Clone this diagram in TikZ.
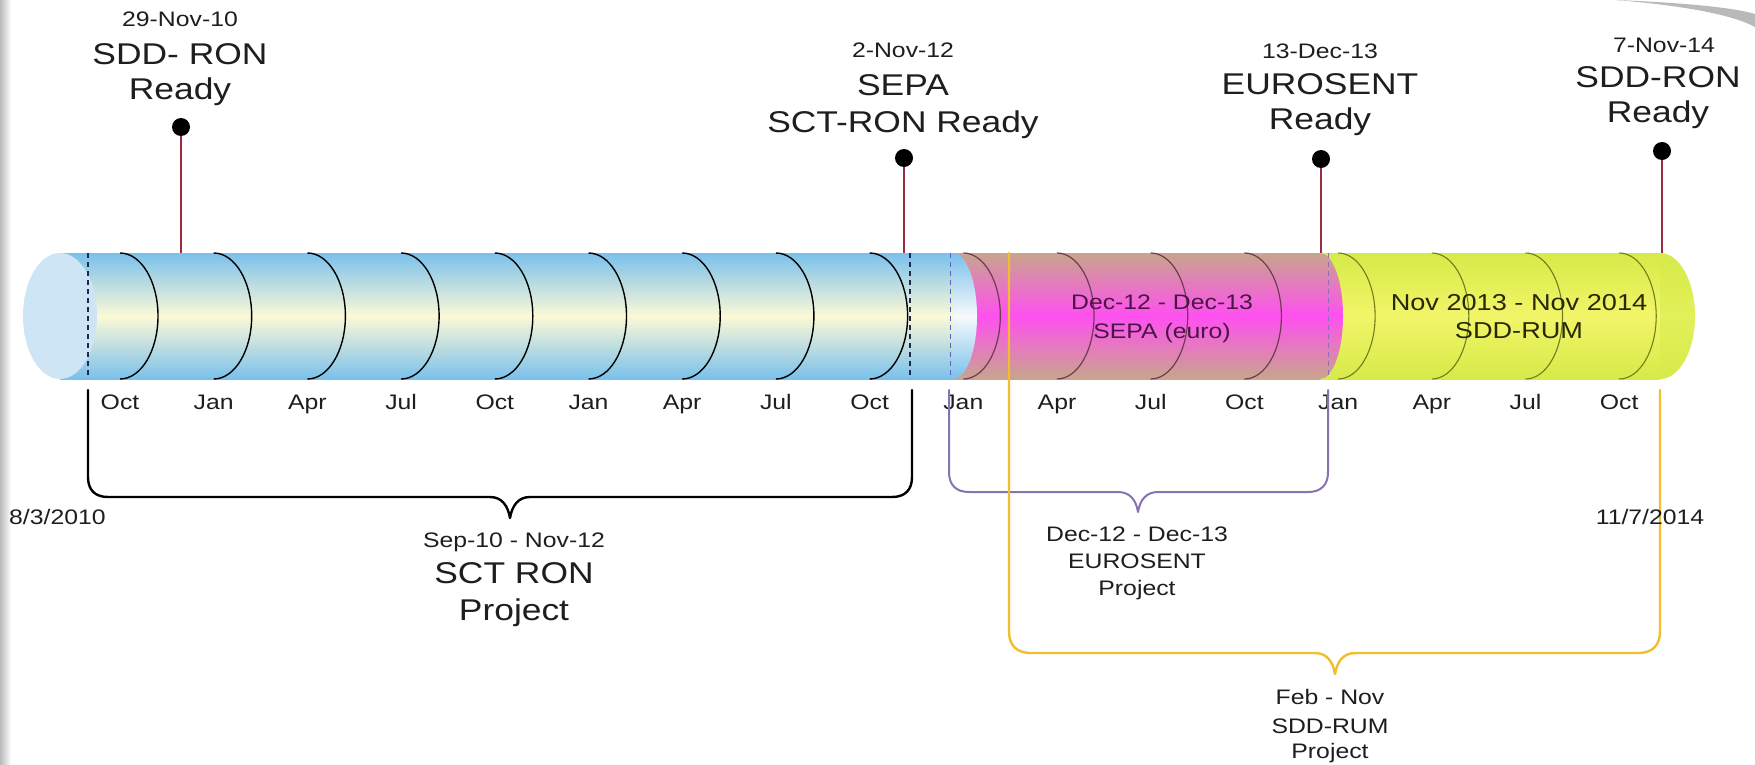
\documentclass[tikz,border=0pt]{standalone}
\usepackage{fontspec}
\setmainfont{Liberation Sans}[FakeStretch=1.18]
\usetikzlibrary{calc}

\definecolor{txt}{RGB}{30,30,30}
\definecolor{blueTop}{RGB}{122,192,236}
\definecolor{blueMid}{RGB}{252,249,214}
\definecolor{blueFace}{RGB}{206,229,245}
\definecolor{blueCapMid}{RGB}{246,250,252}
\definecolor{pinkTop}{RGB}{200,165,140}
\definecolor{pinkMid}{RGB}{255,80,240}
\definecolor{ylwTop}{RGB}{214,234,72}
\definecolor{ylwMid}{RGB}{242,245,105}
\definecolor{ylwCap}{RGB}{226,240,90}
\definecolor{arcPink}{RGB}{110,60,80}
\definecolor{arcYlw}{RGB}{115,125,25}
\definecolor{dashDark}{RGB}{30,40,80}
\definecolor{dashBlue}{RGB}{90,100,190}
\definecolor{dashPurp}{RGB}{140,110,190}
\definecolor{markRed}{RGB}{155,45,60}
\definecolor{brPurp}{RGB}{135,115,175}
\definecolor{brYlw}{RGB}{242,190,45}
\definecolor{txtPink}{RGB}{75,20,70}
\definecolor{txtYlw}{RGB}{40,40,5}

\tikzset{
  lbls/.style={font=\fontsize{21}{25}\selectfont, text=txt, inner sep=0pt, anchor=base},
  lblb/.style={font=\fontsize{30}{36}\selectfont, text=txt, inner sep=0pt, anchor=base},
  arcblk/.style={draw=black, line width=1.4pt},
  arcpnk/.style={draw=arcPink, line width=1.2pt},
  arcylw/.style={draw=arcYlw, line width=1.1pt},
  dotmark/.style={circle, fill=black, minimum size=18pt, inner sep=0pt},
  mline/.style={draw=markRed, line width=1.5pt},
  dashln/.style={line width=1.3pt, dash pattern=on 5pt off 4pt},
  bracket/.style={line width=2.4pt, line cap=round, line join=round},
}

\begin{document}
\begin{tikzpicture}[x=1pt,y=-1pt]
\useasboundingbox (0,0) rectangle (1755,765);
\fill[white] (0,0) rectangle (1755,765);
% page edge shadows
\shade[left color=gray!55, right color=white] (0,0) rectangle (11,765);
\fill[gray!55] (1615,0) .. controls (1690,3) and (1735,8) .. (1755,14) -- (1755,27) .. controls (1735,16) and (1690,6) .. (1615,0) -- cycle;

% ---- yellow segment ----
\shade[top color=ylwTop, bottom color=ylwTop, middle color=ylwMid] (1320,253) rectangle (1660,379);
\shade[top color=ylwTop, bottom color=ylwTop, middle color=ylwCap] (1660,253) arc[start angle=-90,end angle=90,x radius=35,y radius=63] -- cycle;
% ---- pink segment ----
\shade[top color=pinkTop, bottom color=pinkTop, middle color=pinkMid] (950,253) rectangle (1320,379);
\shade[top color=pinkTop, bottom color=pinkTop, middle color=pinkMid] (1320,253) arc[start angle=-90,end angle=90,x radius=23,y radius=63] -- cycle;
% ---- blue segment ----
\shade[top color=blueTop, bottom color=blueTop, middle color=blueMid] (60,253) rectangle (953,379);
\shade[top color=blueTop, bottom color=blueTop, middle color=blueCapMid] (953,253) arc[start angle=-90,end angle=90,x radius=24,y radius=63] -- cycle;
\fill[blueFace] (60,316) ellipse[x radius=37, y radius=63];

% quarter arcs
\foreach \k in {0,...,8} {\draw[arcblk] ({120+93.7*\k},253) arc[start angle=-90,end angle=90,x radius=38,y radius=63];}
\foreach \k in {9,...,12} {\draw[arcpnk] ({120+93.7*\k},253) arc[start angle=-90,end angle=90,x radius=37,y radius=63];}
\foreach \k in {13,...,16} {\draw[arcylw] ({120+93.7*\k},253) arc[start angle=-90,end angle=90,x radius=37,y radius=63];}

% dashed period lines
\draw[dashln, draw=dashDark] (88,253) -- (88,379);
\draw[dashln, draw=dashDark] (910,253) -- (910,379);
\draw[dashln, draw=dashBlue, line width=1pt] (950,253) -- (950,379);
\draw[dashln, draw=dashPurp, line width=1pt] (1328,253) -- (1328,379);

% texts inside the cylinder
\node[lbls, text=txtPink] (p1) at (1162,309) {Dec-12 - Dec-13};
\node[lbls, text=txtPink] (p2) at (1162,338) {SEPA (euro)};
\node[lbls, text=txtYlw, font=\fontsize{23}{27}\selectfont] (y1) at (1519,310) {Nov 2013 - Nov 2014};
\node[lbls, text=txtYlw, font=\fontsize{23}{27}\selectfont] (y2) at (1519,338) {SDD-RUM};

% month labels
\foreach \k/\m in {0/Oct,1/Jan,2/Apr,3/Jul,4/Oct,5/Jan,6/Apr,7/Jul,8/Oct,9/Jan,10/Apr,11/Jul,12/Oct,13/Jan,14/Apr,15/Jul,16/Oct}
  {\node[lbls] (m\k) at ({120+93.7*\k},409) {\m};}

% milestones
\node[dotmark] (d1) at (181,127) {};
\node[dotmark] (d2) at (904,158) {};
\node[dotmark] (d3) at (1321,159) {};
\node[dotmark] (d4) at (1662,151) {};
\coordinate (c1) at (181,253);
\coordinate (c2) at (904,253);
\coordinate (c3) at (1321,253);
\coordinate (c4) at (1662,253);
\draw[mline] (d1) -- (c1);
\draw[mline] (d2) -- (c2);
\draw[mline] (d3) -- (c3);
\draw[mline] (d4) -- (c4);

\node[lbls] (t1a) at (180,27) {29-Nov-10};
\node[lblb] (t1b) at (180,65) {SDD- RON};
\node[lblb] (t1c) at (180,100) {Ready};
\node[lbls] (t2a) at (903,58) {2-Nov-12};
\node[lblb] (t2b) at (903,96) {SEPA};
\node[lblb] (t2c) at (903,132) {SCT-RON Ready};
\node[lbls] (t3a) at (1320,59) {13-Dec-13};
\node[lblb] (t3b) at (1320,95) {EUROSENT};
\node[lblb] (t3c) at (1320,130) {Ready};
\node[lbls] (t4a) at (1664,53) {7-Nov-14};
\node[lblb] (t4b) at (1658,88) {SDD-RON};
\node[lblb] (t4c) at (1658,123) {Ready};

% brackets
\draw[bracket, draw=black] (88,390) -- (88,477) .. controls (88,490) and (95,497) .. (108,497) -- (490,497)
  .. controls (502,497) and (508,506) .. (510,518) .. controls (512,506) and (518,497) .. (530,497)
  -- (892,497) .. controls (905,497) and (912,490) .. (912,477) -- (912,390);
\draw[bracket, draw=brPurp, line width=2pt] (949,390) -- (949,472) .. controls (949,485) and (956,492) .. (969,492) -- (1118,492)
  .. controls (1130,492) and (1136,500) .. (1138,512) .. controls (1140,500) and (1146,492) .. (1158,492)
  -- (1308,492) .. controls (1321,492) and (1328,485) .. (1328,472) -- (1328,390);
\draw[bracket, draw=brYlw] (1009,253) -- (1009,631) .. controls (1009,645) and (1016,653) .. (1031,653) -- (1315,653)
  .. controls (1327,653) and (1333,662) .. (1335,674) .. controls (1337,662) and (1343,653) .. (1355,653)
  -- (1638,653) .. controls (1653,653) and (1660,645) .. (1660,631) -- (1660,390);

% bracket labels
\node[lbls, anchor=base west] (s0) at (9,524) {8/3/2010};
\node[lbls] (s1) at (514,547) {Sep-10 - Nov-12};
\node[lblb] (s2) at (514,583) {SCT RON};
\node[lblb] (s3) at (514,620) {Project};
\node[lbls] (e1) at (1137,541) {Dec-12 - Dec-13};
\node[lbls] (e2) at (1137,568) {EUROSENT};
\node[lbls] (e3) at (1137,595) {Project};
\node[lbls] (r1) at (1330,704) {Feb - Nov};
\node[lbls] (r2) at (1330,733) {SDD-RUM};
\node[lbls] (r3) at (1330,758) {Project};
\node[lbls] (s9) at (1650,524) {11/7/2014};
\end{tikzpicture}
\end{document}
